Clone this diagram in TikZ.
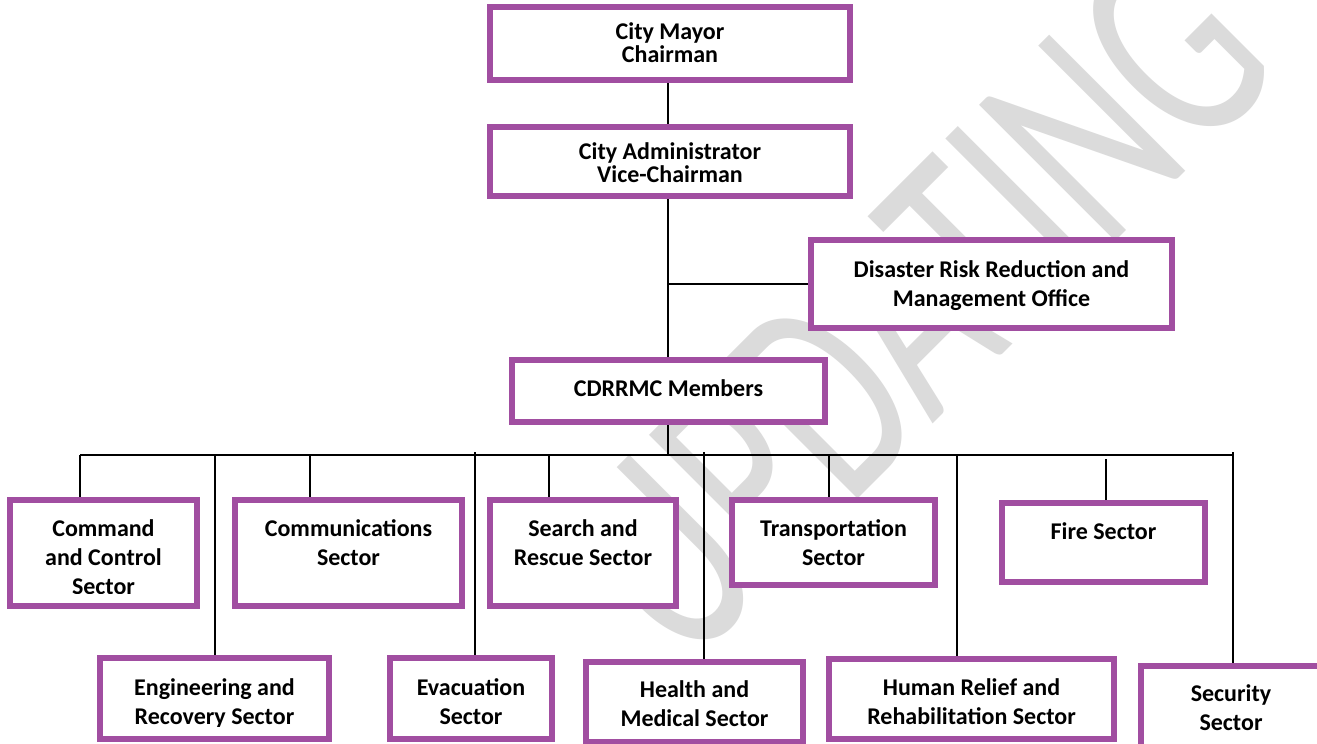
\documentclass[tikz,border=0pt]{standalone}
\usepackage{fontspec}
\setmainfont{Carlito}
\definecolor{purp}{RGB}{161,78,161}
\begin{document}
\begin{tikzpicture}[x=1pt,y=-1pt,
  orgbox/.style={draw=purp, line width=6pt, fill=white, inner sep=0pt},
  lbl/.style={inner sep=0pt, anchor=north, align=center, font=\fontsize{24}{29}\selectfont\bfseries},
  lbltight/.style={lbl, font=\fontsize{24}{23}\selectfont\bfseries},
  conn/.style={draw=black, line width=1.8pt},
  wmark/.style={text=black!14, font=\fontsize{300}{300}\selectfont, rotate=45, xscale=0.66, transform shape, anchor=base, inner sep=0pt}]
\useasboundingbox (0,0) rectangle (1317,744);
\fill[white] (0,0) rectangle (1317,744);
% watermark
\node[wmark] (wm) at (985,372) {UPDATING};
% boxes
\node[orgbox, minimum width=360pt, minimum height=73pt] (mayor) at (670,43.5) {};
\node[orgbox, minimum width=360pt, minimum height=69pt] (admin) at (670,161.5) {};
\node[orgbox, minimum width=361pt, minimum height=88pt] (drrmo) at (991.5,284) {};
\node[orgbox, minimum width=313pt, minimum height=62pt] (cdrrmc) at (668.5,391) {};
\node[orgbox, minimum width=187pt, minimum height=106pt] (command) at (103.5,553) {};
\node[orgbox, minimum width=227pt, minimum height=106pt] (comm) at (348.5,553) {};
\node[orgbox, minimum width=186pt, minimum height=106pt] (search) at (583,553) {};
\node[orgbox, minimum width=203pt, minimum height=85pt] (transport) at (833.5,542.5) {};
\node[orgbox, minimum width=203pt, minimum height=79pt] (fire) at (1103.5,542.5) {};
\node[orgbox, minimum width=229pt, minimum height=81pt] (engin) at (214.5,698.5) {};
\node[orgbox, minimum width=162pt, minimum height=81pt] (evac) at (471,698.5) {};
\node[orgbox, minimum width=217pt, minimum height=80pt] (health) at (694.5,702) {};
\node[orgbox, minimum width=285pt, minimum height=80pt] (human) at (971.5,699) {};
\node[orgbox, minimum width=182pt, minimum height=81pt] (security) at (1232,706.5) {};
% labels
\node[lbltight] (mayorT) at (670,19) {\rule{0pt}{20pt}City Mayor\\Chairman};
\node[lbltight] (adminT) at (670,139) {\rule{0pt}{20pt}City Administrator\\Vice-Chairman};
\node[lbl] (drrmoT) at (991.5,257) {\rule{0pt}{20pt}Disaster Risk Reduction and\\Management Office};
\node[lbl] (cdrrmcT) at (668.5,376) {\rule{0pt}{20pt}CDRRMC Members};
\begin{scope}
  \clip (7,497) rectangle (200,593);
  \node[lbl] (commandT) at (103.5,516) {\rule{0pt}{20pt}Command\\and Control\\Sector};
\end{scope}
\node[lbl] (commT) at (348.5,516) {\rule{0pt}{20pt}Communications\\Sector};
\node[lbl] (searchT) at (583,516) {\rule{0pt}{20pt}Search and\\Rescue Sector};
\node[lbl] (transportT) at (833.5,516) {\rule{0pt}{20pt}Transportation\\Sector};
\node[lbl] (fireT) at (1103.5,519) {\rule{0pt}{20pt}Fire Sector};
\begin{scope}
  \clip (97,655) rectangle (332,726);
  \node[lbl] (enginT) at (214.5,675) {\rule{0pt}{20pt}Engineering and\\Recovery Sector};
\end{scope}
\node[lbl] (evacT) at (471,675) {\rule{0pt}{20pt}Evacuation\\Sector};
\node[lbl] (healthT) at (694.5,677) {\rule{0pt}{20pt}Health and\\Medical Sector};
\node[lbl] (humanT) at (971.5,675) {\rule{0pt}{20pt}Human Relief and\\Rehabilitation Sector};
\node[lbl] (securityT) at (1231,681) {\rule{0pt}{20pt}Security\\Sector};
% connectors
\coordinate (trunk) at (668,0);
\coordinate (busL) at (80,455);
\coordinate (busR) at (1233,455);
\coordinate (dComm) at (310,455);
\coordinate (dEngin) at (215,455);
\coordinate (dEvac) at (475,452);
\coordinate (dSearch) at (549,455);
\coordinate (dHealth) at (704,452);
\coordinate (dTrans) at (829,455);
\coordinate (dHuman) at (957,455);
\coordinate (dFire) at (1106,459);
\coordinate (dSec) at (1233,452);
\draw[conn] (trunk |- mayor.south) -- (trunk |- admin.north);
\draw[conn] (trunk |- admin.south) -- (trunk |- cdrrmc.north);
\draw[conn] (trunk |- drrmo.west) -- (drrmo.west);
\draw[conn] (trunk |- cdrrmc.south) -- (trunk |- busL);
\draw[conn] (busL) -- (busR);
\draw[conn] (busL) -- (busL |- command.north);
\draw[conn] (dComm) -- (dComm |- comm.north);
\draw[conn] (dEngin) -- (dEngin |- engin.north);
\draw[conn] (dEvac) -- (dEvac |- evac.north);
\draw[conn] (dSearch) -- (dSearch |- search.north);
\draw[conn] (dHealth) -- (dHealth |- health.north);
\draw[conn] (dTrans) -- (dTrans |- transport.north);
\draw[conn] (dHuman) -- (dHuman |- human.north);
\draw[conn] (dFire) -- (dFire |- fire.north);
\draw[conn] (dSec) -- (dSec |- security.north);
\end{tikzpicture}
\end{document}
